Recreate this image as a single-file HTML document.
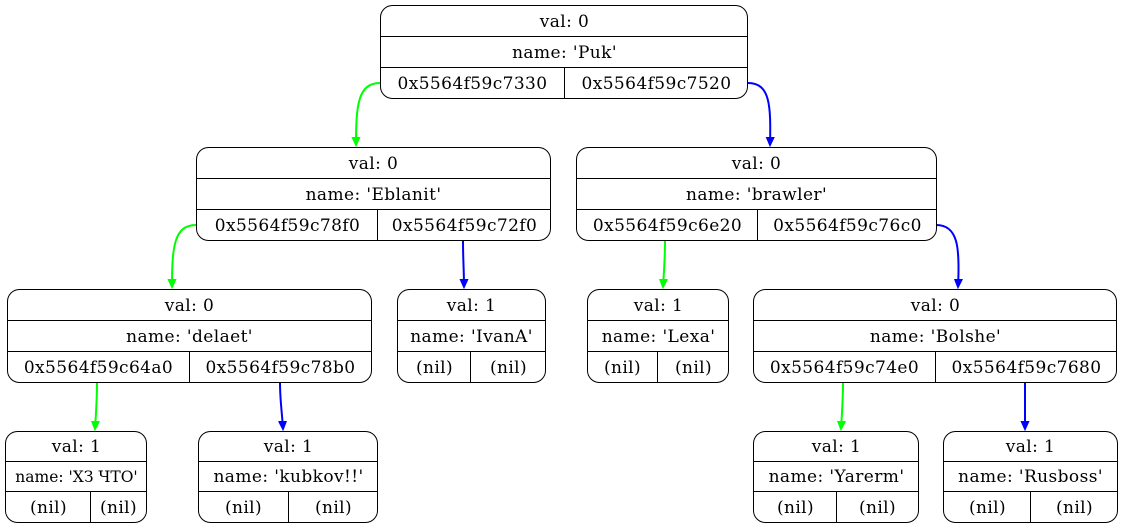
<!DOCTYPE html>
<html><head><meta charset="utf-8"><style>
html,body{margin:0;padding:0;background:#fff;}
svg{display:block;}
text{font-family:"DejaVu Serif","Liberation Serif",serif;font-size:17px;letter-spacing:0.4px;fill:#000;text-anchor:middle;}
.n{fill:none;stroke:#000;stroke-width:1;}
</style></head><body>
<svg width="1123" height="528" viewBox="0 0 1123 528" xmlns="http://www.w3.org/2000/svg">
<defs>
<marker id="ag" markerWidth="10" markerHeight="10" refX="8" refY="5" orient="auto" markerUnits="userSpaceOnUse"><path d="M0,1 L9,5 L0,9 z" fill="#0f0" stroke="#0f0"/></marker>
<marker id="ab" markerWidth="10" markerHeight="10" refX="8" refY="5" orient="auto" markerUnits="userSpaceOnUse"><path d="M0,1 L9,5 L0,9 z" fill="#00f" stroke="#00f"/></marker>
</defs>
<g fill="none" stroke-width="2">
<path d="M380,83 C358,83 356,105 356,145" stroke="#0f0" marker-end="url(#ag)"/>
<path d="M748,83 C770,83 771,105 770,145" stroke="#00f" marker-end="url(#ab)"/>
<path d="M196,225 C174,225 172,247 172,287" stroke="#0f0" marker-end="url(#ag)"/>
<path d="M463,241 C463,260 464,270 464,287" stroke="#00f" marker-end="url(#ab)"/>
<path d="M665,241 C665,260 664,270 663,287" stroke="#0f0" marker-end="url(#ag)"/>
<path d="M936,225 C958,225 960,247 958,287" stroke="#00f" marker-end="url(#ab)"/>
<path d="M97,383 C97,400 96,412 95,429" stroke="#0f0" marker-end="url(#ag)"/>
<path d="M280,383 C280,400 282,412 283,429" stroke="#00f" marker-end="url(#ab)"/>
<path d="M843,383 C843,400 842,412 841,429" stroke="#0f0" marker-end="url(#ag)"/>
<path d="M1025,383 C1025,400 1025,412 1025,429" stroke="#00f" marker-end="url(#ab)"/>
</g>
<g class="n">
<rect x="380.5" y="5.5" width="367" height="93" rx="12"/><path d="M380.5,36.5H747.5M380.5,67.5H747.5M564.5,67.5V98.5"/>
<rect x="196.5" y="147.5" width="354" height="93" rx="12"/><path d="M196.5,178.5H550.5M196.5,209.5H550.5M377.5,209.5V240.5"/>
<rect x="576.5" y="147.5" width="360" height="93" rx="12"/><path d="M576.5,178.5H936.5M576.5,209.5H936.5M757.5,209.5V240.5"/>
<rect x="7.5" y="289.5" width="364" height="93" rx="12"/><path d="M7.5,320.5H371.5M7.5,351.5H371.5M189.5,351.5V382.5"/>
<rect x="397.5" y="289.5" width="148" height="93" rx="12"/><path d="M397.5,320.5H545.5M397.5,351.5H545.5M470.5,351.5V382.5"/>
<rect x="587.5" y="289.5" width="141" height="93" rx="12"/><path d="M587.5,320.5H728.5M587.5,351.5H728.5M657.5,351.5V382.5"/>
<rect x="753.5" y="289.5" width="363" height="93" rx="12"/><path d="M753.5,320.5H1116.5M753.5,351.5H1116.5M935.5,351.5V382.5"/>
<rect x="5.5" y="431.5" width="141" height="91" rx="12"/><path d="M5.5,461.5H146.5M5.5,491.5H146.5M90.5,491.5V522.5"/>
<rect x="198.5" y="431.5" width="179" height="91" rx="12"/><path d="M198.5,461.5H377.5M198.5,491.5H377.5M288.5,491.5V522.5"/>
<rect x="753.5" y="431.5" width="165" height="91" rx="12"/><path d="M753.5,461.5H918.5M753.5,491.5H918.5M836.5,491.5V522.5"/>
<rect x="943.5" y="431.5" width="174" height="91" rx="12"/><path d="M943.5,461.5H1117.5M943.5,491.5H1117.5M1030.5,491.5V522.5"/>
</g>
<g transform="translate(0.5,1)">
<text x="564" y="26">val: 0</text><text x="564" y="57">name: 'Puk'</text>
<text x="472" y="88">0x5564f59c7330</text><text x="656" y="88">0x5564f59c7520</text>
<text x="373" y="168">val: 0</text><text x="373" y="199">name: 'Eblanit'</text>
<text x="287" y="230">0x5564f59c78f0</text><text x="464" y="230">0x5564f59c72f0</text>
<text x="756" y="168">val: 0</text><text x="756" y="199">name: 'brawler'</text>
<text x="667" y="230">0x5564f59c6e20</text><text x="847" y="230">0x5564f59c76c0</text>
<text x="189" y="310">val: 0</text><text x="189" y="341">name: 'delaet'</text>
<text x="98" y="372">0x5564f59c64a0</text><text x="280" y="372">0x5564f59c78b0</text>
<text x="471" y="310">val: 1</text><text x="471" y="341">name: 'IvanA'</text>
<text x="434" y="372">(nil)</text><text x="508" y="372">(nil)</text>
<text x="658" y="310">val: 1</text><text x="658" y="341">name: 'Lexa'</text>
<text x="622" y="372">(nil)</text><text x="693" y="372">(nil)</text>
<text x="935" y="310">val: 0</text><text x="935" y="341">name: 'Bolshe'</text>
<text x="844" y="372">0x5564f59c74e0</text><text x="1026" y="372">0x5564f59c7680</text>
<text x="76" y="451">val: 1</text><text x="76" y="481" style="font-size:15.5px;letter-spacing:0">name: 'ХЗ ЧТО'</text>
<text x="48" y="512">(nil)</text><text x="118" y="512">(nil)</text>
<text x="288" y="451">val: 1</text><text x="288" y="481">name: 'kubkov!!'</text>
<text x="243" y="512">(nil)</text><text x="333" y="512">(nil)</text>
<text x="836" y="451">val: 1</text><text x="836" y="481">name: 'Yarerm'</text>
<text x="795" y="512">(nil)</text><text x="877" y="512">(nil)</text>
<text x="1030" y="451">val: 1</text><text x="1030" y="481">name: 'Rusboss'</text>
<text x="987" y="512">(nil)</text><text x="1074" y="512">(nil)</text>
</g>
</svg>
</body></html>
